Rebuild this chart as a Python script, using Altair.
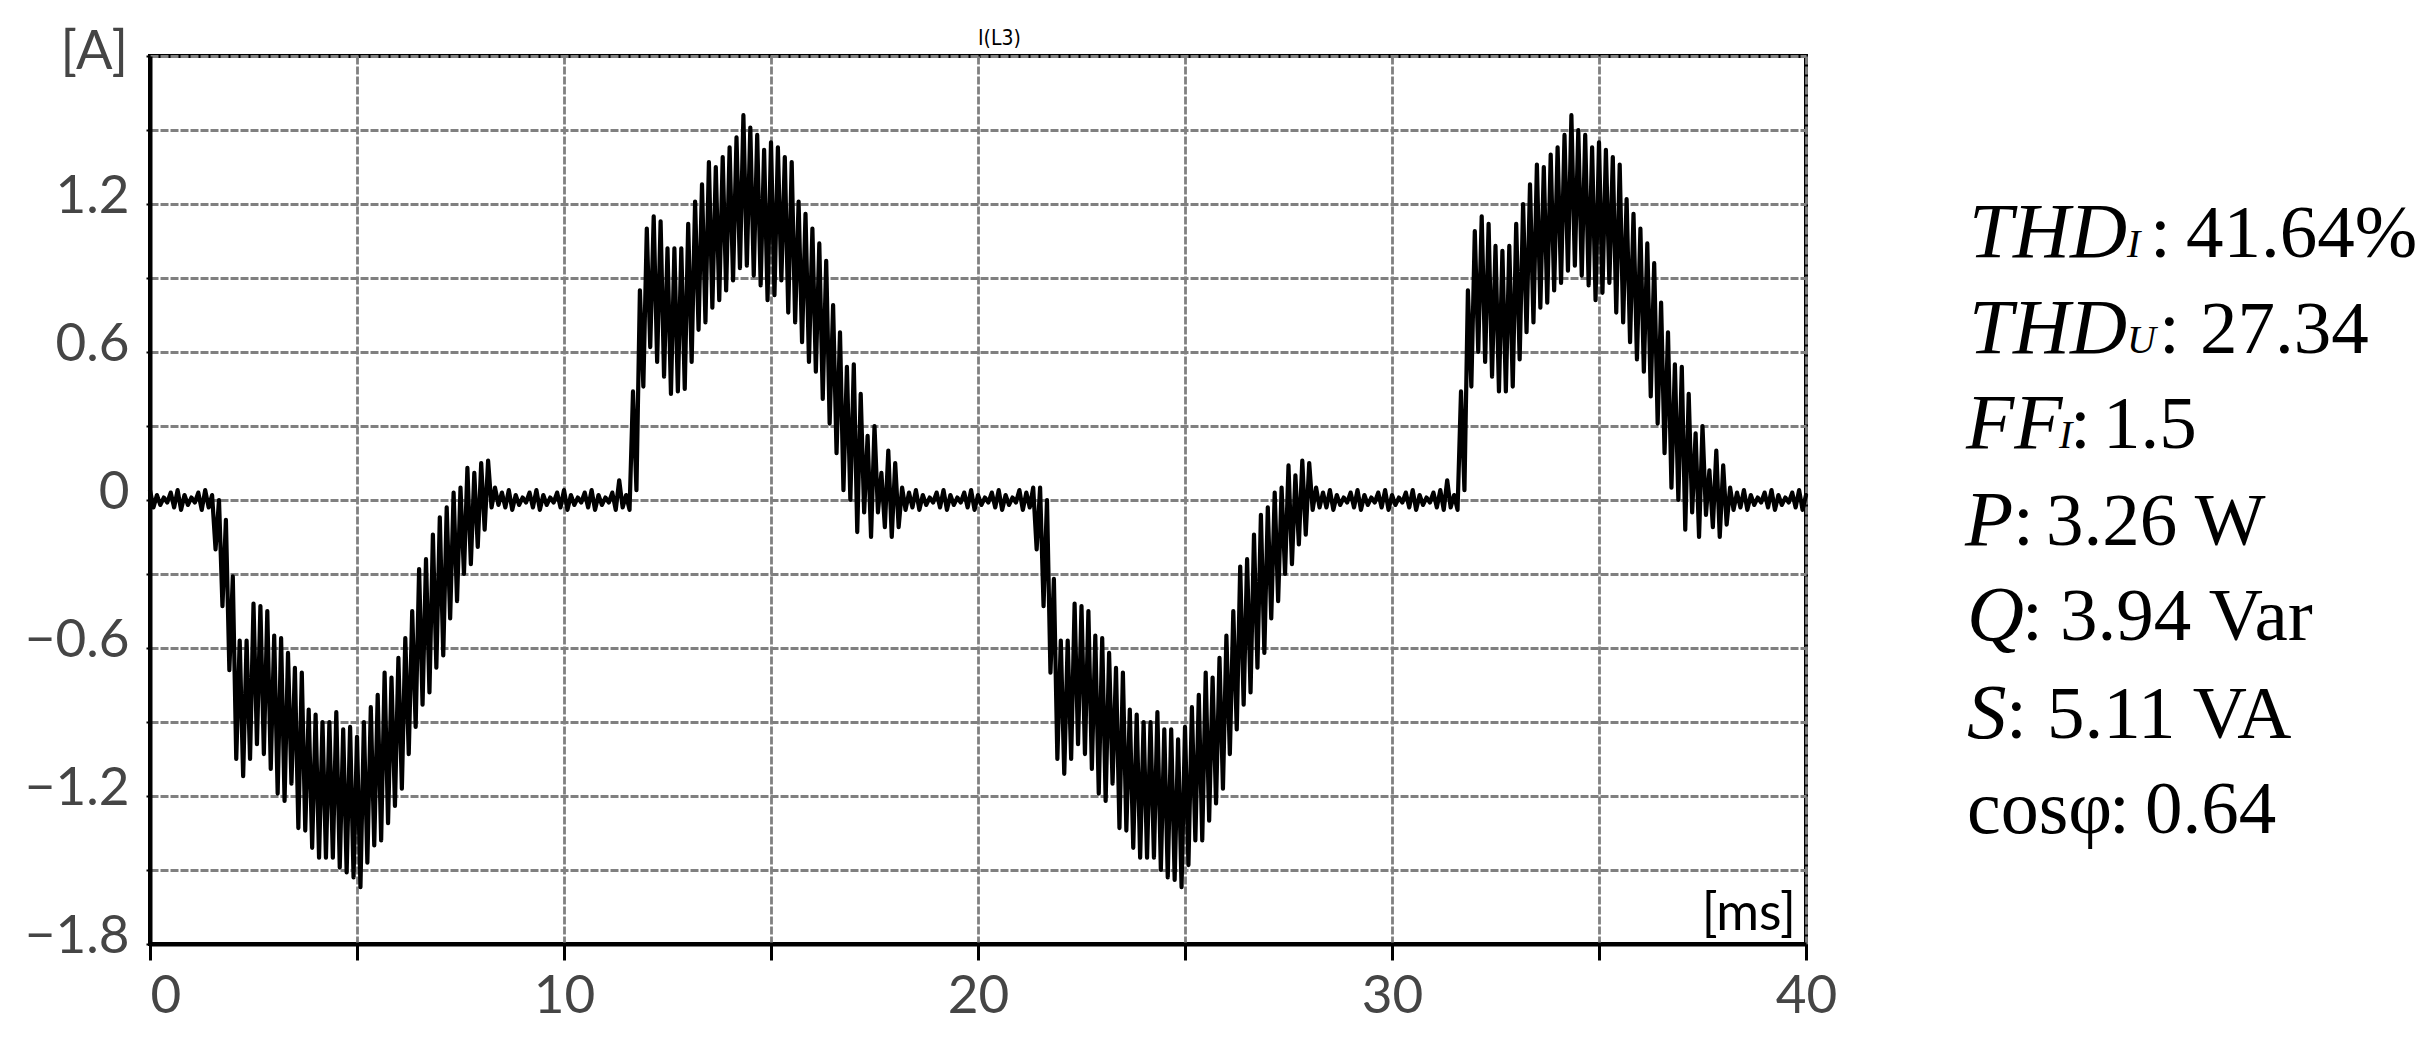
import altair as alt
import pandas as pd

# Sampling step of the recorded current (ms); values alternate ripple peak / trough
STEP_MS = 1 / 12

# Current I(L3) [A], first 20 ms period
i_period1 = [
    0.04, -0.03, 0.02, -0.02, 0.01, -0.01, 0.03, -0.03, 0.04, -0.04,
    0.02, -0.02, 0.01, -0.01, 0.03, -0.04, 0.04, -0.03, 0.02, -0.20,
    0.00, -0.43, -0.08, -0.69, -0.31, -1.05, -0.57, -1.12, -0.57, -1.05,
    -0.42, -0.99, -0.43, -1.03, -0.45, -1.09, -0.55, -1.19, -0.56, -1.22,
    -0.62, -1.15, -0.68, -1.33, -0.70, -1.34, -0.85, -1.41, -0.87, -1.45,
    -0.90, -1.45, -0.90, -1.45, -0.86, -1.49, -0.93, -1.51, -0.92, -1.53,
    -0.96, -1.57, -0.90, -1.47, -0.84, -1.40, -0.79, -1.38, -0.70, -1.31,
    -0.72, -1.24, -0.64, -1.17, -0.56, -1.03, -0.45, -0.92, -0.28, -0.83,
    -0.24, -0.78, -0.14, -0.68, -0.07, -0.63, -0.03, -0.48, 0.03, -0.41,
    0.05, -0.30, 0.13, -0.26, 0.11, -0.19, 0.15, -0.12, 0.16, -0.03,
    0.05, -0.02, 0.03, -0.03, 0.04, -0.04, 0.02, -0.02, 0.01, -0.01,
    0.03, -0.03, 0.04, -0.04, 0.02, -0.02, 0.01, -0.01, 0.03, -0.03,
    0.04, -0.04, 0.02, -0.02, 0.01, -0.01, 0.03, -0.03, 0.04, -0.04,
    0.02, -0.02, 0.01, -0.01, 0.03, -0.04, 0.08, -0.03, 0.02, -0.04,
    0.44, 0.04, 0.85, 0.46, 1.10, 0.62, 1.15, 0.56, 1.13, 0.50,
    1.02, 0.43, 1.02, 0.44, 1.02, 0.45, 1.12, 0.56, 1.21, 0.69,
    1.28, 0.72, 1.37, 0.78, 1.35, 0.81, 1.39, 0.85, 1.43, 0.89,
    1.47, 0.94, 1.56, 0.95, 1.51, 0.91, 1.48, 0.87, 1.42, 0.81,
    1.45, 0.83, 1.43, 0.89, 1.39, 0.76, 1.37, 0.72, 1.21, 0.64,
    1.16, 0.56, 1.10, 0.52, 1.04, 0.41, 0.97, 0.31, 0.79, 0.19,
    0.68, 0.04, 0.54, 0.00, 0.55, -0.13, 0.43, -0.05, 0.26, -0.15,
    0.30, -0.05, 0.11, -0.11, 0.20, -0.15, 0.15, -0.11, 0.05, -0.04,
    0.03, -0.03, 0.04, -0.04, 0.02, -0.02, 0.01, -0.01, 0.03, -0.03,
    0.04, -0.04, 0.02, -0.02, 0.01, -0.01, 0.03, -0.03, 0.04, -0.04,
]

# Current I(L3) [A], second 20 ms period
i_period2 = [
    0.02, -0.02, 0.01, -0.01, 0.03, -0.03, 0.04, -0.04, 0.02, -0.02,
    0.01, -0.01, 0.04, -0.04, 0.03, -0.03, 0.05, -0.20, 0.05, -0.43,
    0.00, -0.70, -0.32, -1.05, -0.57, -1.11, -0.57, -1.05, -0.42, -0.99,
    -0.43, -1.03, -0.45, -1.09, -0.55, -1.19, -0.56, -1.22, -0.62, -1.15,
    -0.68, -1.33, -0.70, -1.34, -0.85, -1.41, -0.87, -1.45, -0.90, -1.45,
    -0.90, -1.45, -0.86, -1.50, -0.93, -1.53, -0.93, -1.54, -0.97, -1.57,
    -0.92, -1.48, -0.84, -1.38, -0.79, -1.38, -0.70, -1.30, -0.72, -1.23,
    -0.64, -1.17, -0.55, -1.03, -0.45, -0.93, -0.27, -0.83, -0.24, -0.78,
    -0.14, -0.68, -0.06, -0.62, -0.03, -0.48, 0.03, -0.41, 0.05, -0.30,
    0.14, -0.26, 0.10, -0.18, 0.16, -0.14, 0.15, -0.04, 0.05, -0.03,
    0.03, -0.03, 0.04, -0.04, 0.02, -0.02, 0.01, -0.01, 0.03, -0.03,
    0.04, -0.04, 0.02, -0.02, 0.01, -0.01, 0.03, -0.03, 0.04, -0.04,
    0.02, -0.02, 0.01, -0.01, 0.03, -0.03, 0.04, -0.04, 0.02, -0.02,
    0.01, -0.01, 0.03, -0.03, 0.04, -0.04, 0.08, -0.03, 0.02, -0.04,
    0.44, 0.04, 0.85, 0.46, 1.09, 0.60, 1.15, 0.56, 1.12, 0.50,
    1.03, 0.44, 1.01, 0.44, 1.03, 0.46, 1.12, 0.57, 1.20, 0.68,
    1.28, 0.72, 1.36, 0.78, 1.35, 0.80, 1.40, 0.85, 1.43, 0.88,
    1.48, 0.93, 1.56, 0.95, 1.50, 0.91, 1.48, 0.87, 1.43, 0.81,
    1.45, 0.84, 1.42, 0.88, 1.39, 0.76, 1.36, 0.72, 1.22, 0.64,
    1.16, 0.57, 1.10, 0.52, 1.04, 0.42, 0.96, 0.31, 0.80, 0.19,
    0.68, 0.05, 0.55, 0.00, 0.54, -0.12, 0.43, -0.05, 0.27, -0.15,
    0.30, -0.06, 0.12, -0.11, 0.20, -0.15, 0.14, -0.10, 0.05, -0.04,
    0.03, -0.03, 0.04, -0.04, 0.02, -0.02, 0.01, -0.01, 0.03, -0.03,
    0.04, -0.04, 0.02, -0.02, 0.01, -0.01, 0.03, -0.03, 0.04, -0.04,
]
i_end = [0.02]

x_ticks = [0, 5, 10, 15, 20, 25, 30, 35, 40]
y_ticks = [-1.8, -1.5, -1.2, -0.9, -0.6, -0.3, 0, 0.3, 0.6, 0.9, 1.2, 1.5, 1.8]

chart_title = "I(L3)"
y_unit = "[A]"
x_unit = "[ms]"
stat_names = ["THD", "THD", "FF", "P", "Q", "S", "cosφ"]
stat_subs = ["I", "U", "I", "", "", "", ""]
stat_values = ["41.64%", "27.34", "1.5", "3.26 W", "3.94 Var", "5.11 VA", "0.64"]

values = i_period1 + i_period2 + i_end
df = pd.DataFrame({"t": [k * STEP_MS for k in range(len(values))], "i": values})

W, H = 1656, 888
LABEL_GRAY = "#454545"

x_axis = alt.Axis(
    values=x_ticks,
    labelExpr="datum.value % 10 === 0 ? datum.label : ''",
    labelAlign={"condition": {"test": "datum.value === 0", "value": "left"}, "value": "center"},
    tickSize=16, tickWidth=3, labelPadding=52, labelBaseline="alphabetic",
    title=None,
)
y_axis = alt.Axis(
    values=y_ticks,
    labelExpr="(abs(round(datum.value * 10)) % 6 === 0 && datum.value < 1.7) ? format(datum.value, '~g') : ''",
    tickSize=4, tickWidth=2, labelPadding=17, labelBaseline="alphabetic", labelOffset=8,
    title=None,
)

line = alt.Chart(df).mark_line(
    color="black", strokeWidth=4.2, strokeJoin="round", strokeCap="round"
).encode(
    x=alt.X("t:Q", scale=alt.Scale(domain=[0, 40], nice=False, zero=False), axis=x_axis),
    y=alt.Y("i:Q", scale=alt.Scale(domain=[-1.8, 1.8], nice=False), axis=y_axis),
)


def label(text, x, y, size, font, color="black", italic=False, align="left"):
    return alt.Chart(pd.DataFrame({"txt": [text]})).mark_text(
        font=font, fontSize=size, color=color, align=align, baseline="alphabetic",
        fontStyle="italic" if italic else "normal",
    ).encode(text="txt:N", x=alt.value(x), y=alt.value(y))


layers = [line]
layers.append(label(chart_title, W / 2, -11, 21, "Liberation Sans Narrow, DejaVu Sans Condensed"))
layers.append(label(y_unit, -22, 13, 54, "Lato", color=LABEL_GRAY, align="right"))
layers.append(label(x_unit, 1646, 874, 52, "Lato", align="right"))

SERIF = "Liberation Serif"
FS_NAME = 79
FS_VAL = 75
baselines = [201, 297, 392, 489, 584, 682, 777]
name_x = [1819, 1819, 1816, 1815, 1817, 1817, 1817]
name_italic = [True, True, True, True, True, True, False]
sub_x = [1977, 1977, 1909, 0, 0, 0, 0]
colon_x = [2000, 2009, 1920, 1863, 1872, 1856, 1959]
value_x = [2036, 2050, 1953, 1896, 1910, 1897, 1995]
for k in range(len(stat_names)):
    yb = baselines[k]
    name_size = FS_NAME if name_italic[k] else FS_VAL + 1
    layers.append(label(stat_names[k], name_x[k], yb, name_size, SERIF, italic=name_italic[k]))
    if stat_subs[k]:
        layers.append(label(stat_subs[k], sub_x[k], yb, 40, SERIF, italic=True))
    layers.append(label(":", colon_x[k], yb, FS_VAL, SERIF))
    layers.append(label(stat_values[k], value_x[k], yb, FS_VAL, SERIF))

chart = alt.layer(*layers).properties(
    width=W, height=H,
    autosize=alt.AutoSizeParams(type="none"),
    padding={"left": 142, "top": 48, "right": 611, "bottom": 89},
).configure_view(
    stroke="black", strokeWidth=4
).configure_axis(
    domainColor="black", domainWidth=4, tickColor="black",
    grid=True, gridColor="#808080", gridDash=[8, 2], gridWidth=2.8,
    labelFont="Lato", labelFontSize=53, labelColor=LABEL_GRAY,
)

chart.save("out.html", embed_options={"renderer": "svg", "actions": False})
